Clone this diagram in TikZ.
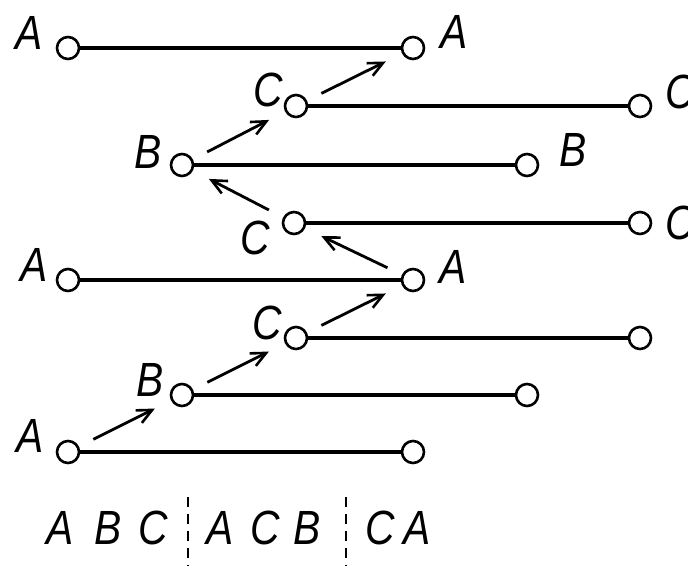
\documentclass[tikz,border=0pt]{standalone}
\usepackage{fontspec}
\setmainfont{Liberation Sans}
\usetikzlibrary{arrows.meta}
\newcommand\narrowlet[1]{\scalebox{0.85}[1]{#1}}
\begin{document}
\begin{tikzpicture}[x=1pt,y=-1pt,
 ringnode/.style={circle,draw,line width=2.6pt,minimum size=22pt,inner sep=0pt},
 wireline/.style={line width=3.2pt},
 arrowmove/.style={line width=2.8pt,-{Straight Barb[length=15pt,width=14pt,line width=2.6pt]},shorten <=16pt,shorten >=18pt},
 letter/.style={font=\fontsize{48}{48}\selectfont\itshape,inner sep=0pt},
 sepline/.style={line width=2.8pt,dash pattern=on 10pt off 7pt}]
\useasboundingbox (0,0) rectangle (688,566);
% terminals
\node[ringnode] (a1) at (68,48) {};   \node[ringnode] (a1r) at (413,48) {};
\node[ringnode] (c2) at (296,106) {}; \node[ringnode] (c2r) at (640,106) {};
\node[ringnode] (b3) at (182,165) {}; \node[ringnode] (b3r) at (527,165) {};
\node[ringnode] (c4) at (294,223) {}; \node[ringnode] (c4r) at (640,223) {};
\node[ringnode] (a5) at (68,280) {};  \node[ringnode] (a5r) at (413,280) {};
\node[ringnode] (c6) at (296,338) {}; \node[ringnode] (c6r) at (640,338) {};
\node[ringnode] (b7) at (182,395) {}; \node[ringnode] (b7r) at (527,395) {};
\node[ringnode] (a8) at (68,452) {};  \node[ringnode] (a8r) at (413,452) {};
% wires
\draw[wireline] (a1) -- (a1r);
\draw[wireline] (c2) -- (c2r);
\draw[wireline] (b3) -- (b3r);
\draw[wireline] (c4) -- (c4r);
\draw[wireline] (a5) -- (a5r);
\draw[wireline] (c6) -- (c6r);
\draw[wireline] (b7) -- (b7r);
\draw[wireline] (a8) -- (a8r);
% moves
\draw[arrowmove] (c2) -- (a1r);
\draw[arrowmove] (b3) -- (c2);
\draw[arrowmove] (c4) -- (b3);
\draw[arrowmove] (a5r) -- (c4);
\draw[arrowmove] (c6) -- (a5r);
\draw[arrowmove] (b7) -- (c6);
\draw[arrowmove] (a8) -- (b7);
% labels
\node[letter] (la1) at (29,33) {\narrowlet{A}};
\node[letter] (la1r) at (454,32) {\narrowlet{A}};
\node[letter] (lc2) at (268,90) {\narrowlet{C}};
\node[letter] (lc2r) at (680,92) {\narrowlet{C}};
\node[letter] (lb3) at (148,152) {\narrowlet{B}};
\node[letter] (lb3r) at (573,150) {\narrowlet{B}};
\node[letter] (lc4) at (255,238) {\narrowlet{C}};
\node[letter] (lc4r) at (680,223) {\narrowlet{C}};
\node[letter] (la5) at (34,265) {\narrowlet{A}};
\node[letter] (la5r) at (453,267) {\narrowlet{A}};
\node[letter] (lc6) at (267,323) {\narrowlet{C}};
\node[letter] (lb7) at (150,380) {\narrowlet{B}};
\node[letter] (la8) at (30,436) {\narrowlet{A}};
% bottom sequence
\node[letter] (s1) at (60,528) {\narrowlet{A}};
\node[letter] (s2) at (108,528) {\narrowlet{B}};
\node[letter] (s3) at (153,528) {\narrowlet{C}};
\node[letter] (s4) at (220,528) {\narrowlet{A}};
\node[letter] (s5) at (265,528) {\narrowlet{C}};
\node[letter] (s6) at (307,528) {\narrowlet{B}};
\node[letter] (s7) at (380,528) {\narrowlet{C}};
\node[letter] (s8) at (417,528) {\narrowlet{A}};
\draw[sepline] (188,497) -- (188,566);
\draw[sepline] (346,497) -- (346,566);
\end{tikzpicture}
\end{document}
